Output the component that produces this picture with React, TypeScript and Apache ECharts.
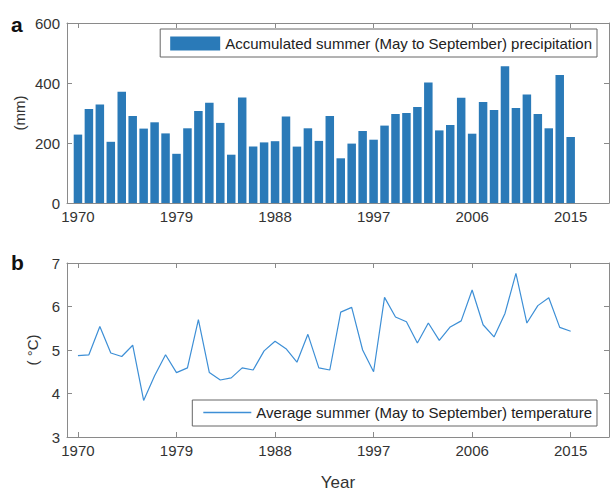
import React, { useEffect, useRef } from "react";
import * as echarts from "echarts";

const years: number[] = [];
for (let y = 1970; y <= 2015; y++) years.push(y);

const precipitation = [
  228, 313, 328, 204, 371, 290, 248, 269, 232, 164,
  249, 307, 334, 267, 161, 352, 188, 202, 206, 288,
  188, 249, 207, 290, 149, 198, 240, 211, 258, 297,
  300, 320, 402, 242, 260, 351, 231, 337, 310, 456,
  317, 362, 297, 249, 427, 220,
];

const temperature = [
  4.87, 4.89, 5.54, 4.93, 4.85, 5.11, 3.84, 4.41, 4.89, 4.48,
  4.59, 5.70, 4.48, 4.31, 4.36, 4.59, 4.54, 4.98, 5.20, 5.03,
  4.72, 5.36, 4.59, 4.54, 5.87, 5.98, 5.00, 4.50, 6.21, 5.76,
  5.65, 5.16, 5.62, 5.22, 5.53, 5.67, 6.38, 5.58, 5.30, 5.84,
  6.76, 5.62, 6.02, 6.20, 5.52, 5.43,
];

const xTicks = [1970, 1979, 1988, 1997, 2006, 2015];
const precipTicks = [0, 200, 400, 600];
const tempTicks = [3, 4, 5, 6, 7];

const precipName = "Accumulated summer (May to September) precipitation";
const tempName = "Average summer (May to September) temperature";

const FONT = "Liberation Sans, Arial, Helvetica, sans-serif";
const AXIS_COLOR = "#8a8a8a";
const LABEL_COLOR = "#333333";
const BAR_COLOR = "#2a7ab8";
const LINE_COLOR = "#3d8fd6";

function xAxisDef(gridIndex: number, position: "bottom" | "top", showLabels: boolean, name?: string) {
  return {
    type: "value",
    gridIndex,
    position,
    min: 1969,
    max: 2018.5,
    name: name || "",
    nameLocation: "middle",
    nameGap: 37,
    nameTextStyle: { fontFamily: FONT, fontSize: 17, color: LABEL_COLOR },
    axisLine: { show: true, onZero: false, lineStyle: { color: AXIS_COLOR, width: 1 } },
    axisTick: { show: true, inside: true, length: 5, customValues: xTicks, lineStyle: { color: AXIS_COLOR } },
    axisLabel: {
      show: showLabels,
      customValues: xTicks,
      formatter: (v: number) => String(v),
      fontFamily: FONT,
      fontSize: 15,
      color: LABEL_COLOR,
      margin: 6,
    },
    splitLine: { show: false },
  };
}

function yAxisDef(
  gridIndex: number,
  position: "left" | "right",
  showLabels: boolean,
  min: number,
  max: number,
  interval: number,
  name?: string,
  nameGap?: number
) {
  return {
    type: "value",
    gridIndex,
    position,
    min,
    max,
    interval,
    name: name || "",
    nameLocation: "middle",
    nameGap: nameGap || 30,
    nameMoveOverlap: false,
    nameRotate: 90,
    nameTextStyle: { fontFamily: FONT, fontSize: 15, color: LABEL_COLOR },
    axisLine: { show: true, lineStyle: { color: AXIS_COLOR, width: 1 } },
    axisTick: { show: true, inside: true, length: 5, lineStyle: { color: AXIS_COLOR } },
    axisLabel: {
      show: showLabels,
      formatter: (v: number) => String(v),
      fontFamily: FONT,
      fontSize: 15,
      color: LABEL_COLOR,
      margin: 7,
    },
    splitLine: { show: false },
  };
}

export default function App() {
  const ref = useRef<HTMLDivElement>(null);

  useEffect(() => {
    if (!ref.current) return;
    const chart = echarts.init(ref.current, null, { renderer: "svg" });
    const barData = years.map((y, i) => [y, precipitation[i]]);
    const lineData = years.map((y, i) => [y, temperature[i]]);

    chart.setOption({
      animation: false,
      backgroundColor: "#ffffff",
      grid: [
        { left: 67, top: 23, right: 4, height: 180, containLabel: false },
        { left: 67, top: 263, right: 4, height: 180, containLabel: false },
      ],
      xAxis: [
        xAxisDef(0, "bottom", true),
        xAxisDef(0, "top", false),
        xAxisDef(1, "bottom", true, "Year"),
        xAxisDef(1, "top", false),
      ],
      yAxis: [
        yAxisDef(0, "left", true, precipTicks[0], precipTicks[precipTicks.length - 1], 200, "(mm)", 40),
        yAxisDef(0, "right", false, precipTicks[0], precipTicks[precipTicks.length - 1], 200),
        yAxisDef(1, "left", true, tempTicks[0], tempTicks[tempTicks.length - 1], 1, "( °C)", 27),
        yAxisDef(1, "right", false, tempTicks[0], tempTicks[tempTicks.length - 1], 1),
      ],
      legend: [
        {
          data: [{ name: precipName, icon: "rect" }],
          right: 16,
          top: 29,
          orient: "horizontal",
          padding: [7, 5, 6, 10],
          borderColor: "#666666",
          borderWidth: 1,
          backgroundColor: "#ffffff",
          itemWidth: 50,
          itemHeight: 14,
          itemGap: 5,
          textStyle: { fontFamily: FONT, fontSize: 15, color: "#222222" },
          selectedMode: false,
        },
        {
          data: [{ name: tempName, icon: "rect", itemStyle: { color: LINE_COLOR } }],
          right: 16,
          top: 400,
          orient: "horizontal",
          padding: [5, 5, 6, 11],
          borderColor: "#666666",
          borderWidth: 1,
          backgroundColor: "#ffffff",
          itemWidth: 48,
          itemHeight: 1.3,
          itemGap: 5,
          textStyle: { fontFamily: FONT, fontSize: 15, color: "#222222" },
          selectedMode: false,
        },
      ],
      graphic: [
        { type: "text", left: 11, top: 14, style: { text: "a", font: "bold 21px " + FONT, fill: "#111" } },
        { type: "text", left: 11, top: 252, style: { text: "b", font: "bold 21px " + FONT, fill: "#111" } },
      ],
      series: [
        {
          name: precipName,
          type: "bar",
          xAxisIndex: 0,
          yAxisIndex: 0,
          data: barData,
          barWidth: 8.5,
          itemStyle: { color: BAR_COLOR },
        },
        {
          name: tempName,
          type: "line",
          xAxisIndex: 2,
          yAxisIndex: 2,
          data: lineData,
          symbol: "none",
          lineStyle: { color: LINE_COLOR, width: 1.2 },
          itemStyle: { color: LINE_COLOR },
        },
      ],
    });

    return () => chart.dispose();
  }, []);

  return (
    <div
      ref={ref}
      style={{ position: "fixed", left: 0, top: 0, width: 613, height: 492, background: "#fff" }}
    />
  );
}
